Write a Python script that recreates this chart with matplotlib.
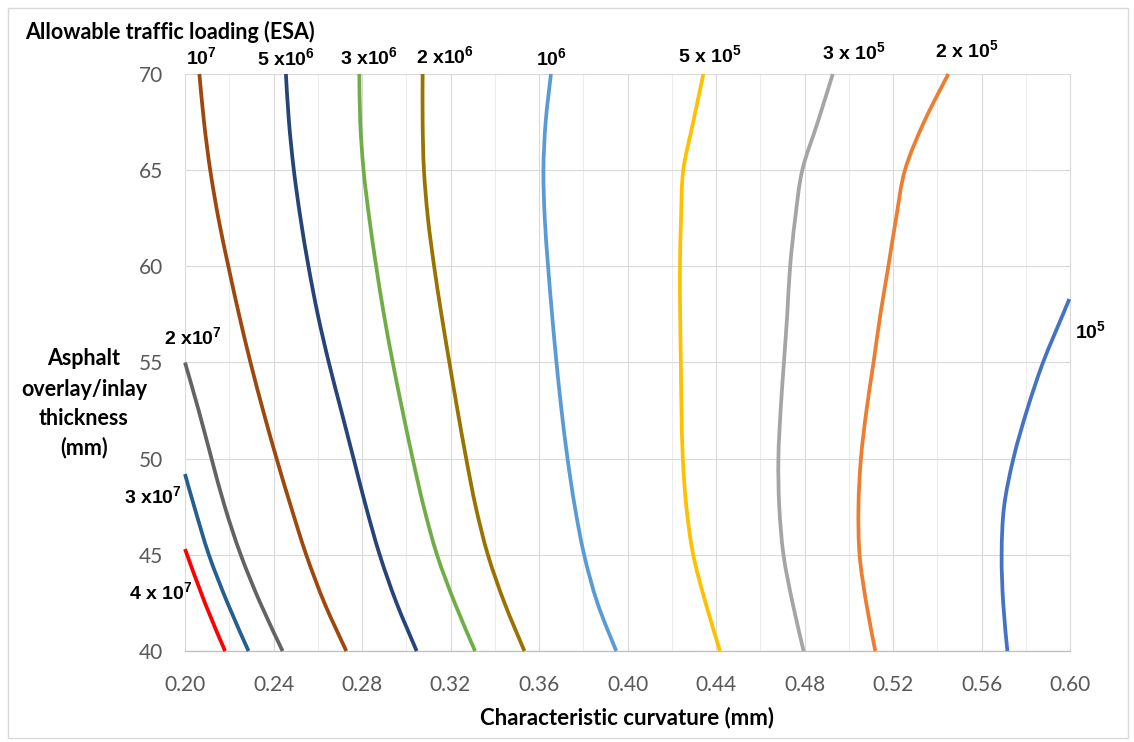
import matplotlib
matplotlib.use("Agg")
import numpy as np
import matplotlib.pyplot as plt
from matplotlib.patches import Rectangle, PathPatch
from matplotlib.path import Path

# ------------- data -------------
# thickness levels (mm) used for most curves
y_full = [70, 67.5, 65, 62.5, 60, 57.5, 55, 52.5, 50, 47.5, 45, 42.5, 40]

x_1e7   = [0.2065, 0.2086, 0.2114, 0.2151, 0.2196, 0.2244, 0.2296, 0.2353, 0.2414, 0.2479, 0.2548, 0.2630, 0.2729]
x_5e6   = [0.2456, 0.2470, 0.2492, 0.2522, 0.2558, 0.2600, 0.2650, 0.2706, 0.2762, 0.2818, 0.2880, 0.2956, 0.3047]
x_3e6   = [0.2788, 0.2792, 0.2807, 0.2833, 0.2864, 0.2899, 0.2939, 0.2983, 0.3029, 0.3079, 0.3139, 0.3219, 0.3311]
x_2e6   = [0.3074, 0.3074, 0.3080, 0.3098, 0.3126, 0.3159, 0.3195, 0.3232, 0.3271, 0.3314, 0.3369, 0.3444, 0.3534]
x_1e6   = [0.3654, 0.3630, 0.3620, 0.3626, 0.3641, 0.3659, 0.3679, 0.3702, 0.3729, 0.3762, 0.3804, 0.3864, 0.3949]
x_5e5   = [0.4343, 0.4297, 0.4252, 0.4242, 0.4237, 0.4238, 0.4241, 0.4244, 0.4250, 0.4266, 0.4297, 0.4353, 0.4418]
x_3e5   = [0.4928, 0.4860, 0.4790, 0.4758, 0.4735, 0.4722, 0.4707, 0.4692, 0.4682, 0.4686, 0.4705, 0.4746, 0.4796]
x_2e5   = [0.5450, 0.5340, 0.5254, 0.5214, 0.5179, 0.5143, 0.5112, 0.5080, 0.5055, 0.5044, 0.5049, 0.5079, 0.5120]

y_1e5   = [58.3, 57.5, 55, 52.5, 50, 47.5, 45, 42.5, 40]
x_1e5   = [0.5997, 0.5968, 0.5878, 0.5805, 0.5744, 0.5702, 0.5691, 0.5698, 0.5717]

y_2e7   = [55, 52.5, 50, 47.5, 45, 42.5, 40]
x_2e7   = [0.2000, 0.2062, 0.2120, 0.2180, 0.2252, 0.2340, 0.2441]

y_3e7   = [49.2, 47.5, 45, 42.5, 40]
x_3e7   = [0.2000, 0.2042, 0.2108, 0.2192, 0.2287]

y_4e7   = [45.3, 42.5, 40]
x_4e7   = [0.2000, 0.2090, 0.2181]

x_ticks = [0.20, 0.24, 0.28, 0.32, 0.36, 0.40, 0.44, 0.48, 0.52, 0.56, 0.60]
x_minor = [0.22, 0.26, 0.30, 0.34, 0.38, 0.42, 0.46, 0.50, 0.54, 0.58]
y_ticks = [40, 45, 50, 55, 60, 65, 70]

# (x, y, colour) for every curve
curves = [
    (x_4e7, y_4e7, "#FF0000"),
    (x_3e7, y_3e7, "#255E91"),
    (x_2e7, y_2e7, "#636363"),
    (x_1e7, y_full, "#9E480E"),
    (x_5e6, y_full, "#264478"),
    (x_3e6, y_full, "#70AD47"),
    (x_2e6, y_full, "#997300"),
    (x_1e6, y_full, "#5B9BD5"),
    (x_5e5, y_full, "#FFC000"),
    (x_3e5, y_full, "#A5A5A5"),
    (x_2e5, y_full, "#ED7D31"),
    (x_1e5, y_1e5, "#4472C4"),
]

# ---------------------------------------------------
plt.rcParams["mathtext.fontset"] = "custom"
plt.rcParams["mathtext.rm"] = "Liberation Sans:bold"
plt.rcParams["mathtext.it"] = "Liberation Sans:bold"
plt.rcParams["mathtext.bf"] = "Liberation Sans:bold"


def smooth_path(xs, ys):
    """Excel-like smoothed line: Catmull-Rom through the points as cubic Beziers."""
    p = np.column_stack([xs, ys])
    verts = [p[0]]
    codes = [Path.MOVETO]
    n = len(p)
    for i in range(n - 1):
        p0 = p[i - 1] if i > 0 else p[i]
        p1, p2 = p[i], p[i + 1]
        p3 = p[i + 2] if i + 2 < n else p[i + 1]
        verts += [p1 + (p2 - p0) / 6, p2 - (p3 - p1) / 6, p2]
        codes += [Path.CURVE4] * 3
    return Path(verts, codes)


fig = plt.figure(figsize=(11.34, 7.42), dpi=100)
ax = fig.add_axes([185/1134, 1 - 651/742, 885/1134, 577/742])

# outer chart border
fig.patches.append(Rectangle((8/1134, 4/742), 1120/1134, 730/742, transform=fig.transFigure,
                             fill=False, edgecolor="#D9D9D9", linewidth=1))

for xs, ys, c in curves:
    ax.add_patch(PathPatch(smooth_path(xs, ys), facecolor="none", edgecolor=c, linewidth=2.7,
                           capstyle="butt", joinstyle="round", clip_on=False, zorder=3))

ax.set_xlim(0.20, 0.60)
ax.set_ylim(40, 70)
ax.set_xticks(x_ticks)
ax.set_xticklabels([f"{v:.2f}" for v in x_ticks])
ax.set_xticks(x_minor, minor=True)
ax.set_yticks(y_ticks)
ax.grid(True, which="major", color="#D9D9D9", linewidth=0.8)
ax.grid(True, which="minor", axis="x", color="#EDEDED", linewidth=0.8)
ax.tick_params(which="both", length=0)
ax.tick_params(axis="x", pad=17)
ax.tick_params(axis="y", pad=16)
for lab in ax.get_xticklabels() + ax.get_yticklabels():
    lab.set_fontfamily("Lato")
    lab.set_fontsize(15)
    lab.set_color("#595959")
for s in ["top", "left"]:
    ax.spines[s].set_visible(False)
ax.spines["bottom"].set_color("#BFBFBF")
ax.spines["bottom"].set_linewidth(0.9)
ax.spines["right"].set_color("#D9D9D9")
ax.spines["right"].set_linewidth(0.8)

# titles
title_kw = dict(fontfamily="Lato", fontweight="bold", fontsize=15.5, va="center")
fig.text(25/1134, 1 - 32/742, "Allowable traffic loading (ESA)", ha="left", **title_kw)
for py, line in [(359, "Asphalt"), (389, "overlay/inlay"), (418, "thickness"), (448, "(mm)")]:
    fig.text(84/1134, 1 - py/742, line, ha="center", **title_kw)
fig.text(627/1134, 1 - 718/742, "Characteristic curvature (mm)", ha="center",
         fontfamily="Lato", fontweight="bold", fontsize=16, va="center")

# curve labels (pixel positions of left edge, vertical centre)
labels = [
    (186, 57, r"10$^{7}$"),
    (257, 58, r"5 x10$^{6}$"),
    (340, 57, r"3 x10$^{6}$"),
    (416, 56, r"2 x10$^{6}$"),
    (536, 58, r"10$^{6}$"),
    (678, 55, r"5 x 10$^{5}$"),
    (822, 52, r"3 x 10$^{5}$"),
    (935, 50, r"2 x 10$^{5}$"),
    (1075, 331, r"10$^{5}$"),
    (164, 337, r"2 x10$^{7}$"),
    (124, 496, r"3 x10$^{7}$"),
    (129, 592, r"4 x 10$^{7}$"),
]
for px, py, t in labels:
    fig.text(px/1134, 1 - py/742, t, fontfamily="Liberation Sans", fontweight="bold",
             fontsize=14, ha="left", va="center")

fig.savefig("out.png", dpi=100)
